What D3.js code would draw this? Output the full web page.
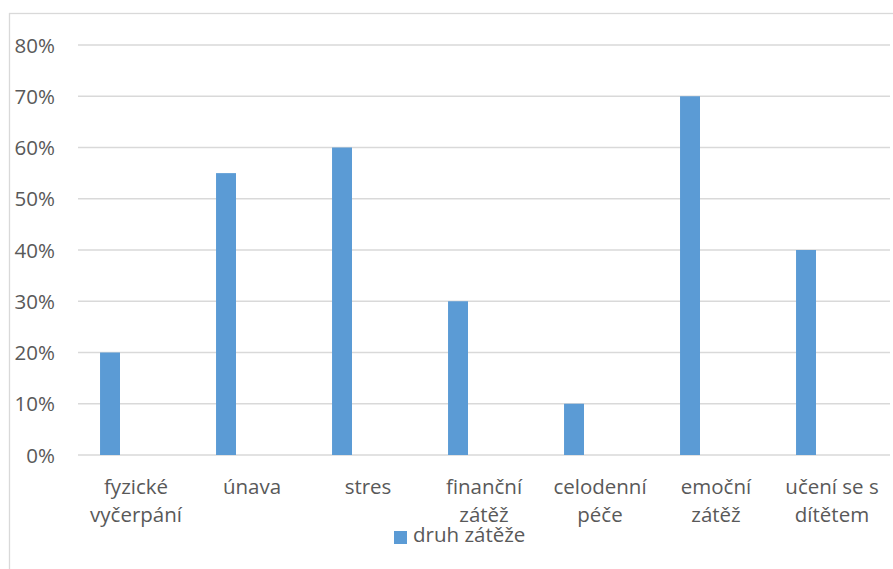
<!DOCTYPE html>
<html><head><meta charset="utf-8">
<script src="https://cdn.jsdelivr.net/npm/d3@7"></script>
<style>body{margin:0;background:#fff}svg{display:block}text{font-family:"Open Sans",sans-serif;fill:#595959}</style>
</head><body>
<svg id="c" width="893" height="569"></svg>
<script>
const categories = ["fyzické\nvyčerpání","únava","stres","finanční\nzátěž","celodenní\npéče","emoční\nzátěž","učení se s\ndítětem"];
const values = [0.20,0.55,0.60,0.30,0.10,0.70,0.40];
const seriesName = "druh zátěže";
const yTicks = [0,0.1,0.2,0.3,0.4,0.5,0.6,0.7,0.8];

const svg = d3.select("#c");
const fs = 20.5;
svg.append("rect").attr("x",9.5).attr("y",13.5).attr("width",1000).attr("height",1000)
  .attr("fill","#fff").attr("stroke","#d9d9d9").attr("stroke-width",1.3);

const x = d3.scaleBand().domain(categories).range([78,890]).paddingInner(0).paddingOuter(0);
const y = d3.scaleLinear().domain([0,0.8]).range([455,45]);

const grid = svg.append("g");
grid.selectAll("line").data(yTicks).join("line")
  .attr("x1",78).attr("x2",890).attr("y1",d=>y(d)).attr("y2",d=>y(d))
  .attr("stroke","#d9d9d9").attr("stroke-width",1.3);

const yAxis = d3.axisLeft(y).tickValues(yTicks).tickFormat(d3.format(".0%")).tickSize(0).tickPadding(0);
const ya = svg.append("g").attr("transform","translate(55,0)").call(yAxis);
ya.select(".domain").remove();
ya.selectAll("text").attr("font-size",fs).attr("font-family","Open Sans").attr("fill","#595959").attr("dy","0.35em");

svg.append("g").selectAll("rect").data(values).join("rect")
  .attr("x",(d,i)=>x(categories[i])+x.bandwidth()*0.19)
  .attr("width",x.bandwidth()*0.172)
  .attr("y",d=>y(d)).attr("height",d=>y(0)-y(d))
  .attr("fill","#5b9bd5");

const xa = svg.append("g");
categories.forEach(c=>{
  const t = xa.append("text").attr("text-anchor","middle").attr("font-size",fs)
    .attr("x",x(c)+x.bandwidth()/2).attr("y",494);
  c.split("\n").forEach((ln,k)=>{
    t.append("tspan").attr("x",x(c)+x.bandwidth()/2).attr("y",494+k*27.5).text(ln);
  });
});

const lg = svg.append("g");
lg.append("rect").attr("x",394).attr("y",531).attr("width",13).attr("height",13).attr("fill","#5b9bd5");
lg.append("text").attr("x",413).attr("y",542).attr("font-size",fs).text(seriesName);
</script>
</body></html>
